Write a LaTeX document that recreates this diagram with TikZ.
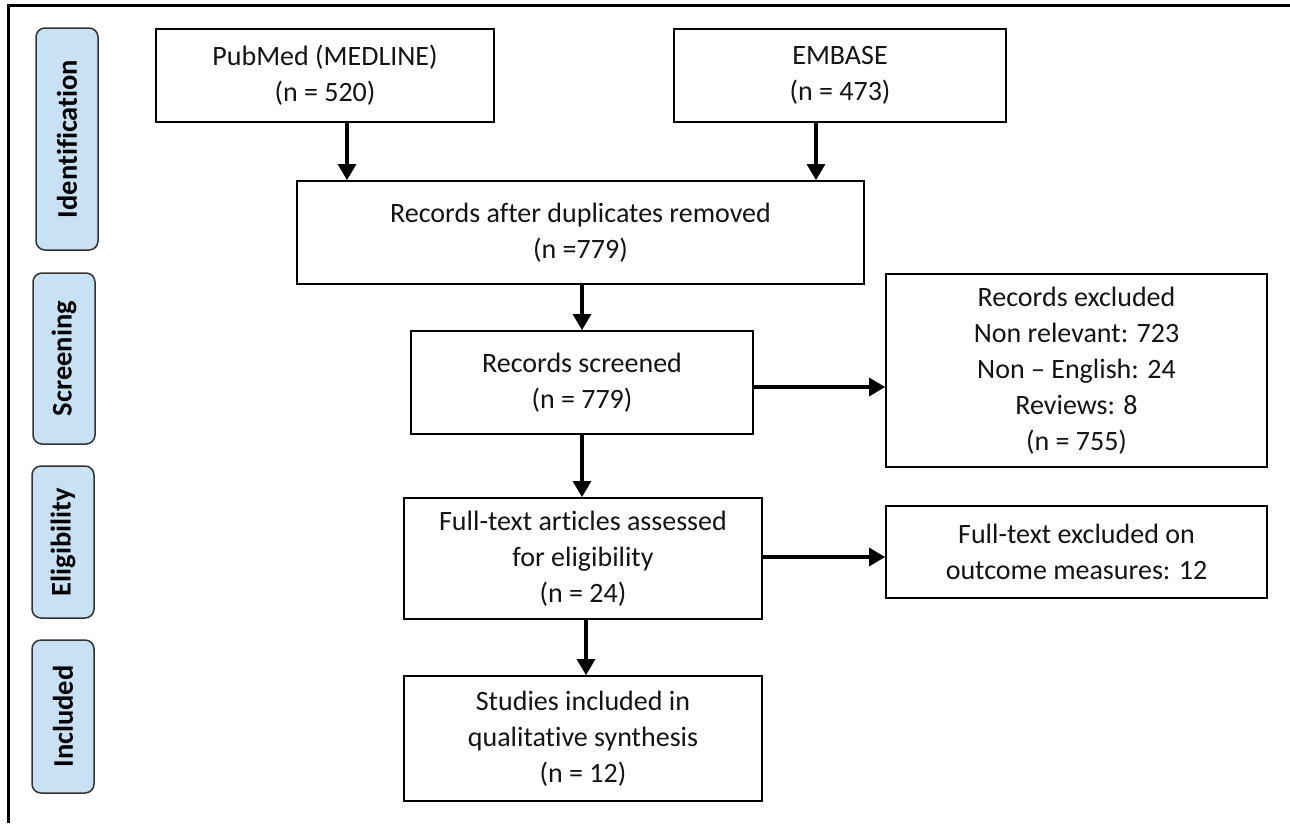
\documentclass[tikz,border=0pt]{standalone}
\usepackage{fontspec}
\setmainfont[Ligatures=NoCommon]{Carlito}
\usetikzlibrary{arrows.meta}
\definecolor{phasefill}{RGB}{200,225,244}
\definecolor{phaseline}{RGB}{50,50,50}
\definecolor{txt}{RGB}{20,20,20}
\tikzset{
  flowbox/.style={draw=black, line width=1.8pt, fill=white, inner sep=0pt, align=center,
    text=txt, font=\fontsize{28}{36}\selectfont},
  phasebox/.style={draw=phaseline, line width=1.5pt, fill=phasefill, rounded corners=9pt,
    inner sep=0pt, font=\fontsize{28.5}{30}\selectfont\bfseries, text=black},
  arr/.style={line width=3.2pt, -{Triangle[width=18pt,length=16pt]}},
  frame/.style={line width=3pt}
}
\begin{document}
\begin{tikzpicture}[x=1pt,y=-1pt]
\useasboundingbox (0,0) rectangle (1290,823);
% outer frame (top and left visible)
\coordinate (fa) at (8,823);
\coordinate (fb) at (8,5);
\coordinate (fc) at (1290,5);
\draw[frame] (fa) -- (fb) -- (fc);
% phase labels
\node[phasebox, minimum width=62pt, minimum height=222pt] (p1) at (67,139) {\rotatebox{90}{Identification}};
\node[phasebox, minimum width=62pt, minimum height=171pt] (p2) at (64,358.5) {\rotatebox{90}{Screening}};
\node[phasebox, minimum width=62pt, minimum height=152pt] (p3) at (63,542) {\rotatebox{90}{Eligibility}};
\node[phasebox, minimum width=62pt, minimum height=153pt] (p4) at (63,716.5) {\rotatebox{90}{Included}};
% boxes
\node[flowbox, minimum width=338pt, minimum height=93pt] (pub) at (325,75.5) {PubMed (MEDLINE)\\(n = 520)};
\node[flowbox, minimum width=332pt, minimum height=93pt] (emb) at (840,75.5) {EMBASE\\(n = 473)};
\node[flowbox, minimum width=567pt, minimum height=103pt] (dup) at (580.5,232.5) {Records after duplicates removed\\(n =779)};
\node[flowbox, minimum width=342pt, minimum height=103pt] (scr) at (582,382.5) {Records screened\\(n = 779)};
\node[flowbox, minimum width=381pt, minimum height=193pt] (exc) at (1076.5,370.5) {Records excluded\\Non relevant: 723\\Non -- English: 24\\Reviews: 8\\(n = 755)};
\node[flowbox, minimum width=358pt, minimum height=121pt] (ft) at (583,558.5) {Full-text articles assessed\\for eligibility\\(n = 24)};
\node[flowbox, minimum width=381pt, minimum height=92pt] (ftx) at (1076.5,552) {Full-text excluded on\\outcome measures: 12};
\node[flowbox, minimum width=358pt, minimum height=125pt] (inc) at (583,738.5) {Studies included in\\qualitative synthesis\\(n = 12)};
% connectors
\draw[arr] ([xshift=22pt]pub.south) -- ([xshift=22pt]pub.south |- dup.north);
\draw[arr] ([xshift=-24pt]emb.south) -- ([xshift=-24pt]emb.south |- dup.north);
\draw[arr] (scr.north |- dup.south) -- (scr.north);
\draw[arr] ([yshift=-4.5pt]scr.east) -- ([yshift=-4.5pt]scr.east -| exc.west);
\draw[arr] (scr.south) -- (scr.south |- ft.north);
\draw[arr] ([yshift=1.5pt]ft.east) -- ([yshift=1.5pt]ft.east -| ftx.west);
\draw[arr] ([xshift=3pt]ft.south) -- ([xshift=3pt]ft.south |- inc.north);
\end{tikzpicture}
\end{document}
